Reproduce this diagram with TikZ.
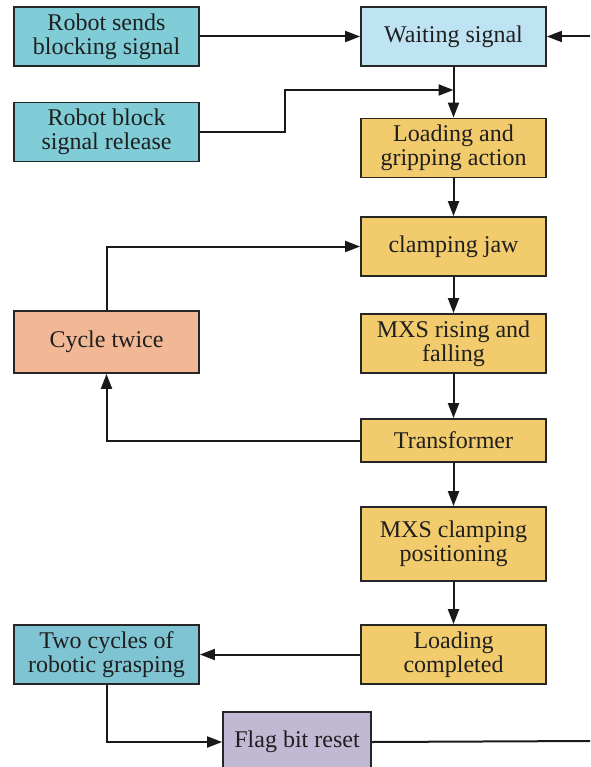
\documentclass[tikz,border=0pt]{standalone}
\usepackage{fontspec}
\setmainfont{Liberation Serif}
\newfontfamily\diagfont{Liberation Serif}
\usepackage{xcolor}
\usetikzlibrary{arrows.meta,positioning}

\definecolor{robotcyan}{RGB}{128,205,216}
\definecolor{waitblue}{RGB}{190,228,243}
\definecolor{stepgold}{RGB}{242,203,108}
\definecolor{cyclepeach}{RGB}{242,184,150}
\definecolor{graspteal}{RGB}{126,196,211}
\definecolor{flaglilac}{RGB}{193,184,212}

\begin{document}
\begin{tikzpicture}[
        x=1pt, y=-1pt,
        every node/.style={font=\diagfont\fontsize{24}{24}\selectfont, text=black!88},
        block/.style={
            draw=black!85,
            line width=1.8pt,
            minimum width=185pt,
            minimum height=59pt,
            inner sep=2pt,
            align=center
        },
        arrow/.style={-{Triangle[length=15pt,width=11pt]}, line width=2pt, draw=black!90}
    ]

        \useasboundingbox (0,0) rectangle (590,767);

        \node[block, fill=robotcyan]  (rs) at (106.5,36.5) {Robot sends\\blocking signal};
        \node[block, fill=robotcyan]  (rr) at (106.5,132)  {Robot block\\signal release};
        \node[block, fill=waitblue]   (ws) at (453.5,36.5) {Waiting signal};
        \node[block, fill=stepgold]   (lg) at (453.5,148)  {Loading and\\gripping action};
        \node[block, fill=stepgold]   (cj) at (453.5,246.5) {clamping jaw};
        \node[block, fill=stepgold]   (mr) at (453.5,343.5) {MXS rising and\\falling};
        \node[block, fill=stepgold, minimum height=43pt] (tf) at (453.5,440.5) {Transformer};
        \node[block, fill=stepgold, minimum height=74pt] (mc) at (453.5,544) {MXS clamping\\positioning};
        \node[block, fill=stepgold]   (lc) at (453.5,654.5) {Loading\\completed};
        \node[block, fill=cyclepeach, minimum height=62pt] (ct) at (106.5,342) {Cycle twice};
        \node[block, fill=graspteal]  (tc) at (106.5,654.5) {Two cycles of\\robotic grasping};
        \node[block, fill=flaglilac, minimum width=148pt, minimum height=60pt] (fb) at (297,742) {Flag bit reset};

        \coordinate (back)  at (590,36.5);
        \coordinate (out)   at (590,741);
        \coordinate (bend)  at (285,90);
        \coordinate (merge) at (453.5,90);

        \draw[arrow] (rs.east) -- (ws.west);
        \draw[arrow] (back) -- (ws.east);
        \draw[arrow] (rr.east) -| (bend) -- (merge);

        \draw[arrow] (ws) -- (lg);
        \draw[arrow] (lg) -- (cj);
        \draw[arrow] (cj) -- (mr);
        \draw[arrow] (mr) -- (tf);
        \draw[arrow] (tf) -- (mc);
        \draw[arrow] (mc) -- (lc);

        \draw[arrow] (tf.west) -| (ct.south);
        \draw[arrow] (ct.north) |- (cj.west);

        \draw[arrow] (lc.west) -- (tc.east);
        \draw[arrow] (tc.south) |- (fb.west);
        \draw[line width=2pt, black!90] (fb.east) -- (out);

    \end{tikzpicture}
\end{document}
